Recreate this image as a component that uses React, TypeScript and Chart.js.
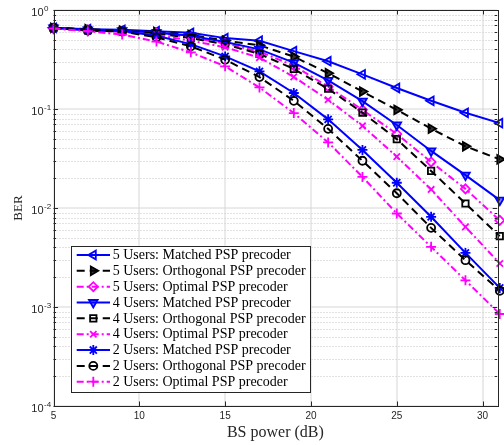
import React, { useEffect, useRef } from 'react';
import { Chart, registerables } from 'chart.js';
import { drawPoint } from 'chart.js/helpers';

Chart.register(...registerables);

// ---------- data ----------
const bsPower = [5, 7, 9, 11, 13, 15, 17, 19, 21, 23, 25, 27, 29, 31];

const users5Matched = [0.66, 0.64, 0.63, 0.61, 0.588, 0.52, 0.49, 0.384, 0.304, 0.224, 0.163, 0.121, 0.0916, 0.072];
const users5Orthogonal = [0.66, 0.64, 0.62, 0.60, 0.56, 0.49, 0.44, 0.338, 0.23, 0.15, 0.098, 0.0633, 0.042, 0.031];
const users5Optimal = [0.65, 0.63, 0.615, 0.585, 0.53, 0.46, 0.38, 0.274, 0.168, 0.098, 0.056, 0.0292, 0.0156, 0.0075];
const users4Matched = [0.66, 0.63, 0.62, 0.59, 0.55, 0.475, 0.40, 0.294, 0.195, 0.12, 0.069, 0.0377, 0.0215, 0.012];
const users4Orthogonal = [0.66, 0.63, 0.615, 0.58, 0.52, 0.45, 0.36, 0.254, 0.16, 0.092, 0.0496, 0.0237, 0.0111, 0.0052];
const users4Optimal = [0.65, 0.62, 0.60, 0.56, 0.49, 0.42, 0.33, 0.211, 0.124, 0.0676, 0.033, 0.0154, 0.00645, 0.00275];
const users2Matched = [0.66, 0.62, 0.615, 0.55, 0.452, 0.34, 0.24, 0.145, 0.0786, 0.0386, 0.018, 0.00815, 0.00352, 0.00156];
const users2Orthogonal = [0.66, 0.62, 0.605, 0.53, 0.43, 0.315, 0.21, 0.121, 0.063, 0.03, 0.0141, 0.0063, 0.00297, 0.00146];
const users2Optimal = [0.65, 0.61, 0.565, 0.48, 0.374, 0.27, 0.165, 0.091, 0.046, 0.0206, 0.0088, 0.00405, 0.00186, 0.00085];

const seriesLabels = [
  '5 Users: Matched PSP precoder',
  '5 Users: Orthogonal PSP precoder',
  '5 Users: Optimal PSP precoder',
  '4 Users: Matched PSP precoder',
  '4 Users: Orthogonal PSP precoder',
  '4 Users: Optimal PSP precoder',
  '2 Users: Matched PSP precoder',
  '2 Users: Orthogonal PSP precoder',
  '2 Users: Optimal PSP precoder',
];
const seriesValues = [
  users5Matched, users5Orthogonal, users5Optimal,
  users4Matched, users4Orthogonal, users4Optimal,
  users2Matched, users2Orthogonal, users2Optimal,
];

const xTicks = [5, 10, 15, 20, 25, 30];
const xMin = 5;
const xMax = 30.85;
const yDecades = [1e-4, 1e-3, 1e-2, 1e-1, 1];
const yDecadeExponents = ['-4', '-3', '-2', '-1', '0'];
const yMinorMultipliers = [1, 2, 3, 4, 5, 6, 7, 8, 9];

const xTitle = 'BS power (dB)';
const yTitle = 'BER';

// ---------- styles ----------
const BLUE = '#0000ff';
const BLACK = '#000000';
const MAGENTA = '#ff00ff';
const AXIS = '#262626';

type Style = { color: string; dash: number[]; pointStyle: any; rotation: number; fill: string; radius: number };
const styles: Style[] = [
  { color: BLUE, dash: [], pointStyle: 'triangle', rotation: -90, fill: 'rgba(0,0,0,0)', radius: 5 },
  { color: BLACK, dash: [8, 5], pointStyle: 'triangle', rotation: 90, fill: 'rgba(0,0,0,0.8)', radius: 5 },
  { color: MAGENTA, dash: [7, 3, 2, 3], pointStyle: 'rectRot', rotation: 0, fill: 'rgba(0,0,0,0)', radius: 4.5 },
  { color: BLUE, dash: [], pointStyle: 'triangle', rotation: 180, fill: 'rgba(0,0,255,0.5)', radius: 5 },
  { color: BLACK, dash: [8, 5], pointStyle: 'rect', rotation: 0, fill: 'rgba(0,0,0,0)', radius: 4.5 },
  { color: MAGENTA, dash: [7, 3, 2, 3], pointStyle: 'crossRot', rotation: 0, fill: 'rgba(0,0,0,0)', radius: 4.5 },
  { color: BLUE, dash: [], pointStyle: 'star', rotation: 0, fill: 'rgba(0,0,0,0)', radius: 5 },
  { color: BLACK, dash: [8, 5], pointStyle: 'circle', rotation: 0, fill: 'rgba(0,0,0,0)', radius: 4 },
  { color: MAGENTA, dash: [7, 3, 2, 3], pointStyle: 'cross', rotation: 0, fill: 'rgba(0,0,0,0)', radius: 5 },
];

const yGridValues: number[] = [];
yDecades.forEach((d, i) => {
  if (i === yDecades.length - 1) yGridValues.push(d);
  else yMinorMultipliers.forEach((m) => yGridValues.push(m * d));
});

const isMajor = (v: number) => Math.abs(Math.log10(v) - Math.round(Math.log10(v))) < 1e-9;

const axesPlugin = {
  id: 'matlabAxes',
  beforeDatasetsDraw(chart: any) {
    const { ctx, chartArea: a, scales } = chart;
    const xs = scales.x;
    const ys = scales.y;
    ctx.save();
    ctx.fillStyle = '#ffffff';
    ctx.fillRect(a.left, a.top, a.right - a.left, a.bottom - a.top);
    ctx.lineWidth = 1;
    for (const t of ys.ticks) {
      const py = ys.getPixelForValue(t.value);
      if (isMajor(t.value)) {
        ctx.strokeStyle = '#d6d6d6';
        ctx.setLineDash([]);
        const yy = Math.round(py);
        ctx.beginPath();
        ctx.moveTo(a.left, yy);
        ctx.lineTo(a.right, yy);
        ctx.stroke();
      } else {
        ctx.strokeStyle = '#c4c4c4';
        ctx.setLineDash([1, 2]);
        const yy = Math.round(py) + 0.5;
        ctx.beginPath();
        ctx.moveTo(a.left, yy);
        ctx.lineTo(a.right, yy);
        ctx.stroke();
      }
    }
    ctx.setLineDash([]);
    ctx.strokeStyle = '#d6d6d6';
    for (const t of xs.ticks) {
      const px = Math.round(xs.getPixelForValue(t.value));
      ctx.beginPath();
      ctx.moveTo(px, a.top);
      ctx.lineTo(px, a.bottom);
      ctx.stroke();
    }
    ctx.restore();
  },
  afterDatasetsDraw(chart: any) {
    const { ctx, chartArea: a, scales } = chart;
    const xs = scales.x;
    const ys = scales.y;
    ctx.save();
    ctx.setLineDash([]);
    // frame
    ctx.strokeStyle = AXIS;
    ctx.lineWidth = 1;
    ctx.strokeRect(Math.round(a.left) + 0.5, Math.round(a.top) + 0.5, Math.round(a.right - a.left), Math.round(a.bottom - a.top));
    // y ticks
    for (const t of ys.ticks) {
      const py = Math.round(ys.getPixelForValue(t.value)) + 0.5;
      const len = isMajor(t.value) ? 4.5 : 2.5;
      ctx.beginPath();
      ctx.moveTo(a.left, py);
      ctx.lineTo(a.left + len, py);
      ctx.moveTo(a.right, py);
      ctx.lineTo(a.right - len, py);
      ctx.stroke();
    }
    // x ticks
    for (const t of xs.ticks) {
      const px = Math.round(xs.getPixelForValue(t.value)) + 0.5;
      ctx.beginPath();
      ctx.moveTo(px, a.bottom);
      ctx.lineTo(px, a.bottom - 4.5);
      ctx.moveTo(px, a.top);
      ctx.lineTo(px, a.top + 4.5);
      ctx.stroke();
    }
    // y tick labels (10^k)
    ctx.fillStyle = AXIS;
    yDecades.forEach((d, i) => {
      const py = ys.getPixelForValue(d);
      const baseX = a.left - 10;
      ctx.font = '11px "Liberation Sans", Arial, sans-serif';
      ctx.textAlign = 'right';
      ctx.textBaseline = 'middle';
      ctx.fillText('10', baseX, py + 3);
      ctx.font = '8px "Liberation Sans", Arial, sans-serif';
      ctx.textAlign = 'left';
      ctx.fillText(yDecadeExponents[i], baseX + 0.5, py - 1.5);
    });
    // legend
    const lx = a.left + 17.2;
    const ly = a.bottom - 160.3;
    const lw = 239.3;
    const lh = 146;
    ctx.fillStyle = '#ffffff';
    ctx.fillRect(lx, ly, lw, lh);
    ctx.strokeStyle = AXIS;
    ctx.lineWidth = 1;
    ctx.strokeRect(Math.round(lx) + 0.5, Math.round(ly) + 0.5, Math.round(lw), Math.round(lh));
    chart.data.datasets.forEach((ds: any, i: number) => {
      const st = styles[i];
      const ry = ly + 9.3 + i * 15.84;
      ctx.save();
      ctx.strokeStyle = st.color;
      ctx.lineWidth = 2;
      ctx.setLineDash(st.dash);
      ctx.beginPath();
      ctx.moveTo(lx + 6, ry);
      ctx.lineTo(lx + 39.3, ry);
      ctx.stroke();
      ctx.setLineDash([]);
      ctx.lineWidth = 1.8;
      ctx.fillStyle = st.fill;
      drawPoint(ctx, { pointStyle: st.pointStyle, rotation: st.rotation, radius: st.radius, borderWidth: 1.8 } as any, lx + 22.6, ry);
      ctx.restore();
      ctx.fillStyle = '#000000';
      ctx.font = '14px "Liberation Serif", "Times New Roman", serif';
      ctx.textAlign = 'left';
      ctx.textBaseline = 'middle';
      ctx.fillText(ds.label, lx + 42, ry + 0.5);
    });
    ctx.restore();
  },
};

export default function App() {
  const canvasRef = useRef<HTMLCanvasElement | null>(null);

  useEffect(() => {
    if (!canvasRef.current) return;
    const datasets = seriesValues.map((vals, i) => {
      const st = styles[i];
      return {
        label: seriesLabels[i],
        data: bsPower.map((x, j) => ({ x, y: vals[j] })),
        borderColor: st.color,
        backgroundColor: st.fill,
        borderWidth: 2,
        borderDash: st.dash,
        pointStyle: st.pointStyle,
        pointRotation: st.rotation,
        pointRadius: st.radius,
        pointBorderWidth: 1.8,
        pointBorderColor: st.color,
        pointBackgroundColor: st.fill,
        tension: 0,
        fill: false,
        clip: false as any,
        order: seriesValues.length - i,
      };
    });

    const chart = new Chart(canvasRef.current, {
      type: 'line',
      data: { datasets },
      options: {
        responsive: false,
        animation: false,
        layout: { padding: { top: 10, right: 2, left: 0, bottom: 0 } },
        plugins: { legend: { display: false }, tooltip: { enabled: false } },
        scales: {
          x: {
            type: 'linear',
            min: xMin,
            max: xMax,
            afterBuildTicks: (s: any) => {
              s.ticks = xTicks.map((v) => ({ value: v }));
            },
            afterFit: (s: any) => {
              s.height = 39;
            },
            grid: { display: false, drawTicks: false },
            border: { display: false },
            ticks: {
              display: true,
              padding: 4,
              color: AXIS,
              autoSkip: false,
              maxRotation: 0,
              font: { family: '"Liberation Sans", Arial, sans-serif', size: 10 },
            },
            title: {
              display: true,
              text: xTitle,
              color: AXIS,
              font: { family: '"Liberation Serif", "Times New Roman", serif', size: 16 },
              padding: { top: 0, bottom: 3 },
            },
          },
          y: {
            type: 'logarithmic',
            min: 1e-4,
            max: 1,
            afterBuildTicks: (s: any) => {
              s.ticks = yGridValues.map((v) => ({ value: v }));
            },
            afterFit: (s: any) => {
              s.width = 53.5;
            },
            grid: { display: false, drawTicks: false },
            border: { display: false },
            ticks: { display: false },
            title: {
              display: true,
              text: yTitle,
              color: AXIS,
              font: { family: '"Liberation Serif", "Times New Roman", serif', size: 13 },
              padding: { top: 10.5, bottom: 0 },
            },
          },
        },
      },
      plugins: [axesPlugin],
    });
    return () => chart.destroy();
  }, []);

  return (
    <div style={{ position: 'absolute', left: 0, top: 0, width: 504, height: 445, background: '#ffffff' }}>
      <canvas ref={canvasRef} width={504} height={445} style={{ display: 'block', width: 504, height: 445 }} />
    </div>
  );
}
